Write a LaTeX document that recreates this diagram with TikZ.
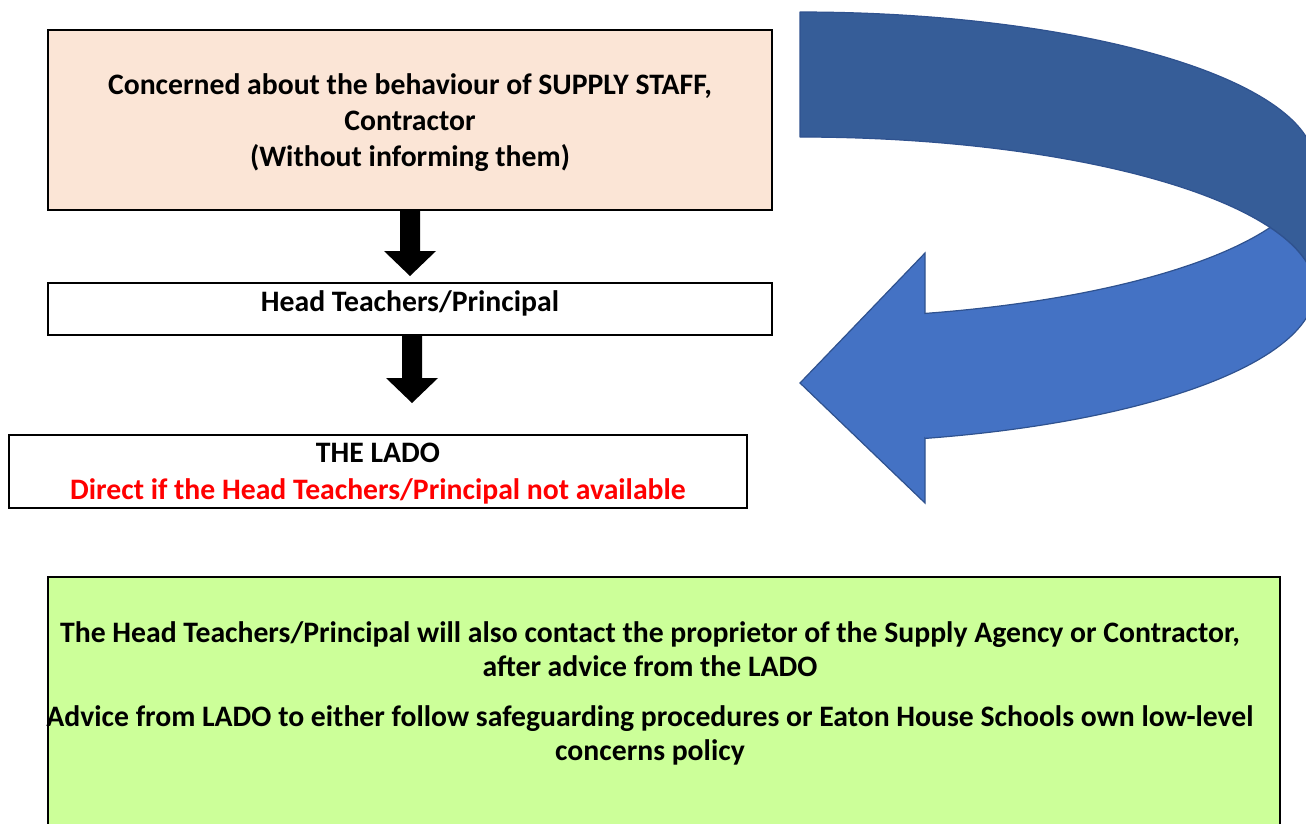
\documentclass[tikz,border=0pt]{standalone}
\usepackage{fontspec}
\setmainfont{Carlito}
\usetikzlibrary{calc}
\definecolor{peach}{HTML}{FBE5D6}
\definecolor{lime}{HTML}{CCFF99}
\definecolor{arrlight}{HTML}{4472C4}
\definecolor{arrdark}{HTML}{365D98}
\definecolor{arredge}{HTML}{2F528F}
\definecolor{alertred}{HTML}{FF0000}
\tikzset{
  box/.style={draw=black, line width=2pt, inner sep=0pt},
  txt/.style={font=\fontsize{29.7}{36}\selectfont\bfseries, align=center, inner sep=0pt},
  pics/downarrow/.style args={#1/#2}{code={
    \fill[black] (-10,0) -- (-10,#1) -- (-26,#1) -- (0,#1+#2) -- (26,#1) -- (10,#1) -- (10,0) -- cycle;}},
  bandback/.style={fill=arrdark, draw=arredge, line width=1.2pt, line join=round},
  bandfront/.style={fill=arrlight, draw=arredge, line width=1.2pt, line join=miter}
}
\begin{document}
\begin{tikzpicture}[x=1pt,y=-1pt]
\useasboundingbox (0,0) rectangle (1306,823);
\clip (0,0) rectangle (1306,823);

% curved arrow: back (dark) band
\path[bandback] (800,12)
  -- plot[domain=-90:0, samples=80] ({800+515*cos(\x)},{165+153*sin(\x)})
  -- (1315,290)
  -- plot[domain=0:-90, samples=80] ({800+515*cos(\x)},{290+153*sin(\x)})
  -- cycle;
% curved arrow: front (light) band with head
\path[bandfront] (925,438.4)
  -- plot[domain=75.95:-24.1, samples=100] ({800+515*cos(\x)},{290+153*sin(\x)})
  -- plot[domain=24.1:75.95, samples=80] ({800+515*cos(\x)},{165+153*sin(\x)})
  -- (925,253) -- (800,383) -- (925,503) -- cycle;

% boxes
\node[box, fill=peach, minimum width=724pt, minimum height=180pt] (concern) at (410,120) {};
\node[txt] (concerntext) at (410,123) {Concerned about the behaviour of SUPPLY STAFF,\\Contractor\\(Without informing them)};

\node[box, fill=white, minimum width=724pt, minimum height=52pt] (headbox) at (410,309) {};
\node[txt] (headtext) at (410,303) {Head Teachers/Principal};

\node[box, fill=white, minimum width=738pt, minimum height=73pt] (lado) at (378,471.5) {};
\node[txt, font=\fontsize{29.7}{37}\selectfont\bfseries] (ladotext) at (378,474) {THE LADO\\\textcolor{alertred}{Direct if the Head Teachers/Principal not available}};

\node[box, fill=lime, minimum width=1232pt, minimum height=263pt] (note) at (664,708.5) {};
\node[txt, font=\fontsize{29.7}{34}\selectfont\bfseries] (notetext) at (650,693.5) {The Head Teachers/Principal will also contact the proprietor of the Supply Agency or Contractor,\\after advice from the LADO\\[16pt]Advice from LADO to either follow safeguarding procedures or Eaton House Schools own low-level\\concerns policy};

% block arrows
\pic at (concern.south) {downarrow=40/25};
\pic at ($(headbox.south)+(2,0)$) {downarrow=42/25};
\end{tikzpicture}
\end{document}
